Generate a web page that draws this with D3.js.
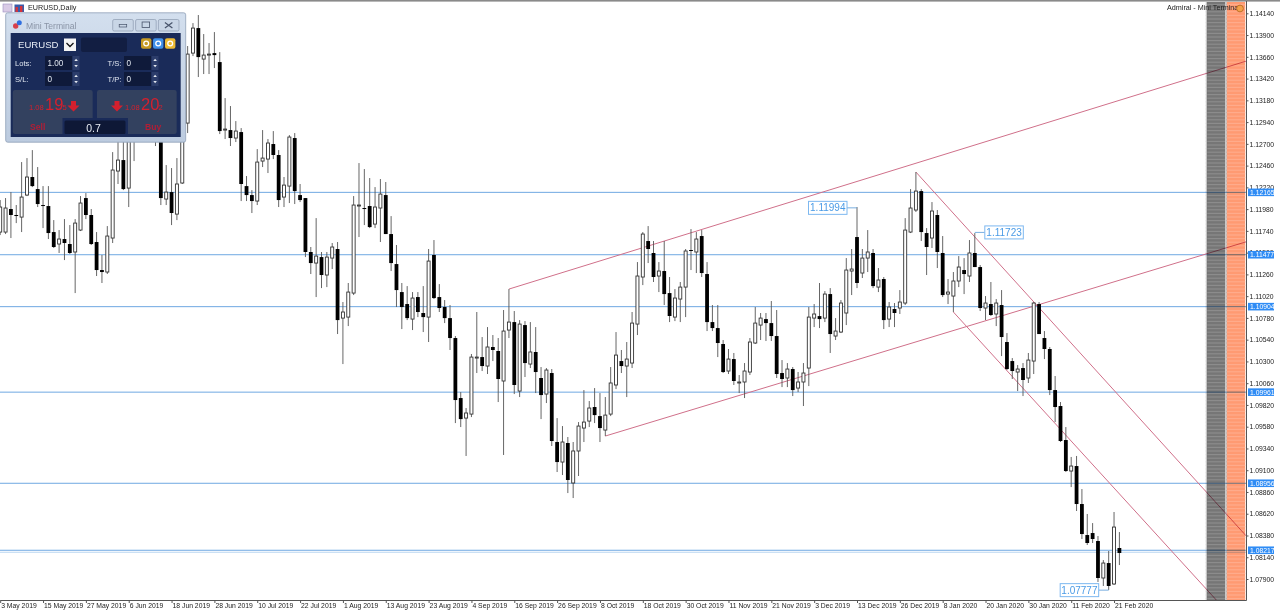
<!DOCTYPE html>
<html>
<head>
<meta charset="utf-8">
<title>EURUSD,Daily</title>
<script src="https://cdnjs.cloudflare.com/ajax/libs/d3/7.8.5/d3.min.js"></script>
<style>
  html, body { margin: 0; padding: 0; background: #fff; overflow: hidden; }
  text { font-family: "Liberation Sans", Arial, sans-serif; }
</style>
</head>
<body>
<div id="chart"></div>
<script>
// daily candles, 3 May 2019 .. 24 Feb 2020
var opens = [1.11727,1.11727,1.11981,1.11915,1.11892,1.12135,1.12334,1.12201,1.12025,1.12014,1.11727,1.11595,1.11650,1.11595,1.11507,1.11749,1.12102,1.11915,1.11617,1.11308,1.11286,1.11661,1.12400,1.12521,1.12212,1.12852,1.13073,1.13293,1.13426,1.13349,1.12907,1.12091,1.12168,1.11925,1.12268,1.12929,1.13701,1.13977,1.13635,1.13679,1.13701,1.13602,1.12852,1.12852,1.12764,1.12830,1.12234,1.12135,1.12069,1.12510,1.12532,1.12698,1.12577,1.12113,1.12234,1.12764,1.12135,1.12102,1.11507,1.11385,1.11451,1.11253,1.11440,1.11540,1.10778,1.10789,1.11054,1.12014,1.11992,1.12014,1.11815,1.11992,1.12135,1.11705,1.11374,1.11065,1.10933,1.10767,1.11010,1.10834,1.10789,1.11474,1.11010,1.10900,1.10778,1.10558,1.09896,1.09675,1.09719,1.10337,1.10348,1.10249,1.10459,1.10415,1.10084,1.10646,1.10734,1.09973,1.10701,1.10271,1.10404,1.10117,1.09940,1.10172,1.09411,1.09190,1.09400,1.08959,1.09312,1.09565,1.09642,1.09797,1.09697,1.09543,1.09719,1.10040,1.10304,1.10249,1.10282,1.10712,1.11231,1.11628,1.11496,1.11242,1.11297,1.11054,1.10789,1.10988,1.11120,1.11529,1.11507,1.11683,1.11264,1.10734,1.10668,1.10492,1.10194,1.10326,1.10062,1.10073,1.10183,1.10503,1.10701,1.10767,1.10723,1.10580,1.10172,1.10117,1.10216,1.10006,1.10073,1.10227,1.10778,1.10800,1.10778,1.11043,1.10580,1.10624,1.10834,1.11297,1.11672,1.11275,1.11440,1.11496,1.11120,1.11209,1.10767,1.10878,1.10889,1.10944,1.11727,1.11970,1.12179,1.11716,1.11661,1.11915,1.11496,1.11043,1.11021,1.11187,1.11308,1.11242,1.11496,1.11341,1.10889,1.10933,1.10823,1.10922,1.10514,1.10304,1.10183,1.10227,1.10117,1.10304,1.10933,1.10558,1.10437,1.09984,1.09808,1.09433,1.09091,1.09146,1.08727,1.08385,1.08407,1.08319,1.07911,1.08076,1.07845,1.08242];
var highs = [1.12080,1.12102,1.12168,1.12025,1.12499,1.12543,1.12631,1.12444,1.12234,1.12234,1.11859,1.11749,1.11870,1.11804,1.11870,1.12124,1.12157,1.11981,1.11727,1.11474,1.11793,1.12609,1.12852,1.12907,1.13018,1.13183,1.13349,1.13514,1.13492,1.13404,1.12984,1.12466,1.12433,1.12543,1.12962,1.13779,1.14032,1.14121,1.13911,1.13812,1.13933,1.13712,1.13205,1.13117,1.12951,1.12874,1.12345,1.12190,1.12642,1.12852,1.12753,1.12841,1.12631,1.12334,1.12797,1.12819,1.12257,1.12102,1.11562,1.11881,1.11507,1.11507,1.11606,1.11617,1.10955,1.11165,1.12124,1.12488,1.12422,1.12323,1.12223,1.12312,1.12279,1.11903,1.11584,1.11165,1.11131,1.11065,1.11065,1.11131,1.11540,1.11639,1.11153,1.10977,1.10922,1.10580,1.09962,1.09786,1.10382,1.10845,1.10569,1.10679,1.10591,1.10558,1.10867,1.11098,1.10856,1.10756,1.10745,1.10734,1.10679,1.10238,1.10227,1.10216,1.09675,1.09587,1.09466,1.09411,1.09631,1.09984,1.09863,1.10006,1.09951,1.09907,1.10238,1.10624,1.10426,1.10514,1.10845,1.11396,1.11727,1.11793,1.11628,1.11396,1.11628,1.11231,1.11098,1.11176,1.11540,1.11760,1.11727,1.11749,1.11396,1.10922,1.10922,1.10536,1.10437,1.10393,1.10150,1.10282,1.10558,1.10900,1.10834,1.10834,1.10966,1.10867,1.10315,1.10282,1.10238,1.10183,1.10282,1.10900,1.10933,1.11165,1.11076,1.11109,1.10778,1.10977,1.11440,1.11540,1.12003,1.11540,1.11749,1.11540,1.11330,1.11231,1.10955,1.10944,1.11087,1.11881,1.12201,1.12389,1.12201,1.11771,1.12058,1.11970,1.11683,1.11209,1.11286,1.11462,1.11440,1.11639,1.11716,1.11363,1.11021,1.11176,1.10988,1.11087,1.10613,1.10337,1.10260,1.10282,1.10393,1.10955,1.10955,1.10635,1.10459,1.10139,1.09852,1.09576,1.09246,1.09257,1.08892,1.08617,1.08517,1.08374,1.08109,1.08209,1.08639,1.08418];
var lows = [1.11694,1.11705,1.11661,1.11826,1.11727,1.12124,1.12223,1.12003,1.11771,1.11650,1.11551,1.11496,1.11418,1.11485,1.11054,1.11738,1.11870,1.11584,1.11242,1.11165,1.11264,1.11606,1.12257,1.12190,1.12003,1.12510,1.12962,1.13183,1.13018,1.12676,1.12025,1.12025,1.11804,1.11859,1.12257,1.12819,1.13668,1.13437,1.13470,1.13470,1.13536,1.12808,1.12753,1.12676,1.12720,1.12069,1.12069,1.11937,1.12025,1.12444,1.12378,1.12532,1.12003,1.12003,1.12047,1.12036,1.12058,1.11451,1.11264,1.11010,1.11109,1.11120,1.11319,1.10602,1.10271,1.10690,1.11032,1.11672,1.11804,1.11771,1.11771,1.11617,1.11705,1.11297,1.10900,1.10657,1.10756,1.10646,1.10789,1.10624,1.10514,1.10988,1.10845,1.10723,1.10426,1.09620,1.09576,1.09257,1.09686,1.10172,1.10194,1.10161,1.10304,1.09852,1.09268,1.10558,1.09940,1.09907,1.10128,1.10227,1.09951,1.09664,1.09841,1.09367,1.09080,1.09047,1.08848,1.08793,1.09036,1.09411,1.09576,1.09620,1.09411,1.09477,1.09697,1.09995,1.10172,1.09907,1.10227,1.10591,1.11142,1.11385,1.11176,1.11065,1.10922,1.10734,1.10745,1.10734,1.10789,1.11308,1.11275,1.11231,1.10635,1.10635,1.10348,1.10172,1.10161,1.10040,1.09951,1.09896,1.10150,1.10492,1.10536,1.10525,1.10525,1.10117,1.10017,1.10017,1.09918,1.09962,1.09808,1.10028,1.10679,1.10668,1.10734,1.10393,1.10536,1.10613,1.10701,1.11032,1.11109,1.11220,1.11286,1.11109,1.11065,1.10657,1.10679,1.10679,1.10823,1.10922,1.11716,1.11948,1.11628,1.11253,1.11551,1.11330,1.11010,1.10933,1.10845,1.11120,1.11043,1.11176,1.11341,1.10856,1.10756,1.10801,1.10690,1.10359,1.10205,1.10106,1.09973,1.09918,1.10062,1.10161,1.10602,1.10326,1.09929,1.09631,1.09411,1.09080,1.08914,1.08650,1.08341,1.08275,1.08297,1.07867,1.07823,1.07779,1.07834,1.08054];
var closes = [1.12003,1.11992,1.11915,1.11904,1.12113,1.12334,1.12234,1.12036,1.12014,1.11716,1.11562,1.11650,1.11606,1.11496,1.11826,1.12047,1.11915,1.11595,1.11308,1.11286,1.11683,1.12411,1.12521,1.12201,1.12852,1.13073,1.13293,1.13459,1.13183,1.12907,1.12102,1.12168,1.11937,1.12257,1.12907,1.13690,1.13977,1.13657,1.13679,1.13690,1.13679,1.12841,1.12863,1.12764,1.12841,1.12257,1.12135,1.12069,1.12499,1.12543,1.12709,1.12577,1.12080,1.12245,1.12775,1.12179,1.12080,1.11507,1.11385,1.11462,1.11253,1.11451,1.11562,1.10756,1.10845,1.11065,1.12025,1.12025,1.11981,1.11782,1.12003,1.12146,1.11705,1.11385,1.11087,1.10900,1.10778,1.10999,1.10845,1.10789,1.11407,1.10999,1.10889,1.10778,1.10558,1.09874,1.09664,1.09731,1.10348,1.10348,1.10249,1.10459,1.10426,1.10106,1.10635,1.10734,1.10040,1.10712,1.10282,1.10404,1.10183,1.09929,1.10205,1.09422,1.09190,1.09411,1.08992,1.09312,1.09587,1.09631,1.09786,1.09708,1.09565,1.09708,1.10062,1.10370,1.10249,1.10326,1.10723,1.11242,1.11705,1.11540,1.11231,1.11297,1.11043,1.10801,1.10999,1.11120,1.11518,1.11518,1.11650,1.11275,1.10734,1.10668,1.10503,1.10183,1.10326,1.10084,1.10073,1.10194,1.10514,1.10723,1.10778,1.10723,1.10580,1.10161,1.10106,1.10216,1.09984,1.10073,1.10172,1.10789,1.10823,1.10767,1.11043,1.10602,1.10635,1.10944,1.11308,1.11319,1.11165,1.11440,1.11507,1.11131,1.11198,1.10756,1.10900,1.10834,1.10955,1.11749,1.11992,1.12179,1.11727,1.11562,1.11959,1.11507,1.11032,1.11065,1.11187,1.11341,1.11264,1.11496,1.11341,1.10889,1.10944,1.10812,1.10944,1.10569,1.10216,1.10194,1.10216,1.10095,1.10315,1.10944,1.10602,1.10437,1.09984,1.09797,1.09422,1.09091,1.09146,1.08727,1.08396,1.08297,1.08341,1.07911,1.08076,1.07823,1.08473,1.08187];

// x axis: one label every 8 bars
var dateLabels = ["3 May 2019","15 May 2019","27 May 2019","6 Jun 2019","18 Jun 2019","28 Jun 2019","10 Jul 2019","22 Jul 2019","1 Aug 2019","13 Aug 2019","23 Aug 2019","4 Sep 2019","16 Sep 2019","26 Sep 2019","8 Oct 2019","18 Oct 2019","30 Oct 2019","11 Nov 2019","21 Nov 2019","3 Dec 2019","13 Dec 2019","26 Dec 2019","8 Jan 2020","20 Jan 2020","30 Jan 2020","11 Feb 2020","21 Feb 2020"];
var priceTicks = [1.14140,1.13900,1.13660,1.13420,1.13180,1.12940,1.12700,1.12460,1.12220,1.11980,1.11740,1.11500,1.11260,1.11020,1.10780,1.10540,1.10300,1.10060,1.09820,1.09580,1.09340,1.09100,1.08860,1.08620,1.08380,1.08140,1.07900];

// horizontal levels and the extra bid line
var levels = [1.12165,1.11477,1.10904,1.09961,1.08956,1.08217];
var bidLevel = 1.08195;

// channel lines: [bar, price] pairs
var channels = [
  [[95, 1.11098], [232.7, 1.13613]],
  [[113, 1.09477], [232.7, 1.11620]],
  [[171, 1.12389], [232.7, 1.08374]],
  [[178, 1.10845], [227.1, 1.07668]]
];

// high / low callouts: bar, price, which side the box sits on
var calloutBars = [160, 182, 207];
var calloutPrices = [1.11994, 1.11723, 1.07777];
var calloutSides = [-1, 1, -1];

var width = 1280, height = 613;
var plotRight = 1246, plotBottom = 600;
var barStep = 5.355, lastBar = (plotRight - 0.2) / barStep;

var xScale = d3.scaleLinear().domain([0, lastBar]).range([0.2, plotRight]);
var yScale = d3.scaleLinear().domain([1.079, 1.1414]).range([579, 13.3]);

var svg = d3.select("#chart").append("svg")
    .attr("width", width)
    .attr("height", height)
    .style("display", "block")
    .style("background", "#fff");

var defs = svg.append("defs");
defs.append("clipPath").attr("id", "plot")
    .append("rect").attr("x", 0).attr("y", 2).attr("width", plotRight).attr("height", plotBottom - 2);

var plot = svg.append("g").attr("clip-path", "url(#plot)");

// top border of the window
svg.append("rect").attr("x", 0).attr("y", 0).attr("width", width).attr("height", 1.6).attr("fill", "#8a8a8a");

// levels
plot.selectAll("line.level")
    .data(levels)
    .enter()
    .append("line")
    .attr("class", "level")
    .attr("x1", 0).attr("x2", plotRight)
    .attr("y1", d => yScale(d)).attr("y2", d => yScale(d))
    .attr("stroke", "#6fa8e2")
    .attr("stroke-width", 1);

plot.append("line")
    .attr("x1", 0).attr("x2", plotRight)
    .attr("y1", yScale(bidLevel)).attr("y2", yScale(bidLevel))
    .attr("stroke", "#a9cbee")
    .attr("stroke-width", 0.8);

// channels
plot.selectAll("line.channel")
    .data(channels)
    .enter()
    .append("line")
    .attr("class", "channel")
    .attr("x1", d => xScale(d[0][0])).attr("y1", d => yScale(d[0][1]))
    .attr("x2", d => xScale(d[1][0])).attr("y2", d => yScale(d[1][1]))
    .attr("stroke", "#d0708a")
    .attr("stroke-width", 1);

// candles
var candles = plot.selectAll("g.candle")
    .data(opens)
    .enter()
    .append("g")
    .attr("class", "candle");

candles.append("line")
    .attr("x1", (d, i) => xScale(i)).attr("x2", (d, i) => xScale(i))
    .attr("y1", (d, i) => yScale(highs[i])).attr("y2", (d, i) => yScale(lows[i]))
    .attr("stroke", "#555")
    .attr("stroke-width", 0.9);

candles.append("rect")
    .attr("x", (d, i) => xScale(i) - (closes[i] < opens[i] ? 1.9 : 1.5))
    .attr("width", (d, i) => closes[i] < opens[i] ? 3.8 : 3)
    .attr("y", (d, i) => yScale(Math.max(opens[i], closes[i])))
    .attr("height", (d, i) => Math.max(1, Math.abs(yScale(opens[i]) - yScale(closes[i]))))
    .attr("fill", (d, i) => closes[i] < opens[i] ? "#000" : "#fff")
    .attr("stroke", (d, i) => closes[i] < opens[i] ? "none" : "#333")
    .attr("stroke-width", 0.9);

// callouts
var callouts = svg.append("g");
calloutBars.forEach(function(bar, i) {
    var cx = xScale(bar), cy = yScale(calloutPrices[i]);
    var side = calloutSides[i];
    var gap = 10;
    var boxW = 38.5, boxH = 13;
    var boxX = side < 0 ? cx - gap - boxW : cx + gap;
    callouts.append("line")
        .attr("x1", cx).attr("x2", side < 0 ? boxX + boxW : boxX)
        .attr("y1", cy).attr("y2", cy)
        .attr("stroke", "#6aa5dd")
        .attr("stroke-width", 0.9);
    callouts.append("rect")
        .attr("x", boxX).attr("y", cy - boxH / 2)
        .attr("width", boxW).attr("height", boxH)
        .attr("fill", "#fff")
        .attr("stroke", "#7db8f0")
        .attr("stroke-width", 1);
    callouts.append("text")
        .attr("x", boxX + boxW / 2).attr("y", cy + 3.6)
        .attr("text-anchor", "middle")
        .attr("font-size", "10px")
        .attr("fill", "#4a9be6")
        .text(calloutPrices[i].toFixed(5));
});

// striped columns on the right, multiplied over the lines so they show through
function stripes(x, w, base, light) {
    var g = svg.append("g").style("mix-blend-mode", "multiply");
    g.append("rect").attr("x", x).attr("y", 2).attr("width", w).attr("height", plotBottom - 2).attr("fill", base);
    g.selectAll("rect.stripe")
        .data(d3.range(4, plotBottom, 3.6))
        .enter()
        .append("rect")
        .attr("class", "stripe")
        .attr("x", x).attr("y", d => d)
        .attr("width", w).attr("height", 1.2)
        .attr("fill", light);
}
stripes(1205.8, 1.3, "#c4c4c4", "#c4c4c4");
stripes(1225, 1.8, "#c9c9c9", "#c9c9c9");
stripes(1207, 18, "#767676", "#8c8c8c");
stripes(1226.8, 18.4, "#ff9a72", "#ffab8b");

// axes
var xAxis = svg.append("g")
    .attr("class", "axis axis--x")
    .attr("transform", "translate(0," + plotBottom + ")")
    .call(d3.axisBottom(xScale)
        .tickValues(d3.range(0, dateLabels.length * 8, 8))
        .tickFormat((d, i) => dateLabels[i])
        .tickSize(3)
        .tickSizeOuter(0));
xAxis.select(".domain").attr("stroke", "#555");
xAxis.selectAll("line").attr("stroke", "#555");
xAxis.selectAll("text")
    .attr("font-family", null)
    .attr("text-anchor", "start")
    .attr("x", 0.5)
    .attr("y", 3.5)
    .attr("font-size", "6.8px")
    .attr("fill", "#222");

var yAxis = svg.append("g")
    .attr("class", "axis axis--y")
    .attr("transform", "translate(" + plotRight + ",0)")
    .call(d3.axisRight(yScale)
        .tickValues(priceTicks)
        .tickFormat(d3.format(".5f"))
        .tickSize(2.5)
        .tickSizeOuter(0));
yAxis.select(".domain").attr("stroke", "#555").attr("d", "M0.5,1V" + (plotBottom + 0.5));
yAxis.selectAll("line").attr("stroke", "#555");
yAxis.selectAll("text")
    .attr("x", 3.5)
    .attr("font-size", "6.8px")
    .attr("fill", "#222");

// level price tags
var tags = svg.append("g");
tags.selectAll("rect")
    .data(levels)
    .enter()
    .append("rect")
    .attr("x", 1248).attr("y", d => yScale(d) - 3.8)
    .attr("width", 26).attr("height", 7.6)
    .attr("fill", "#2f8cf5");
tags.selectAll("text")
    .data(levels)
    .enter()
    .append("text")
    .attr("x", 1250).attr("y", d => yScale(d) + 2.4)
    .attr("font-size", "6.8px")
    .attr("fill", "#fff")
    .text(d => d.toFixed(5));

// chart caption, expert name
svg.append("rect").attr("x", 3).attr("y", 4).attr("width", 9).attr("height", 8).attr("fill", "#d9cbe6").attr("stroke", "#9a8fc0").attr("stroke-width", 0.6);
svg.append("rect").attr("x", 14.5).attr("y", 4.5).attr("width", 9.5).attr("height", 7.5).attr("fill", "#3a5aa8");
svg.append("rect").attr("x", 15.5).attr("y", 7).attr("width", 2.4).attr("height", 5).attr("fill", "#d8343a");
svg.append("rect").attr("x", 20).attr("y", 6).attr("width", 2.4).attr("height", 6).attr("fill", "#d8343a");
svg.append("text").attr("x", 28).attr("y", 10.4).attr("font-size", "7.2px").attr("fill", "#222").text("EURUSD,Daily");
svg.append("text").attr("x", 1167).attr("y", 10.4).attr("font-size", "7.2px").attr("fill", "#222").text("Admiral - Mini Terminal");
svg.append("circle").attr("cx", 1240).attr("cy", 8.5).attr("r", 3.4).attr("fill", "#f4a24a").attr("stroke", "#b5651d").attr("stroke-width", 0.8);

// mini terminal window
var term = svg.append("g");
var titleGrad = defs.append("linearGradient").attr("id", "titleGrad").attr("x1", 0).attr("x2", 0).attr("y1", 0).attr("y2", 1);
titleGrad.append("stop").attr("offset", "0").attr("stop-color", "#d3dfee");
titleGrad.append("stop").attr("offset", "1").attr("stop-color", "#bccbdf");

term.append("rect").attr("x", 5.7).attr("y", 12.8).attr("width", 180).attr("height", 129.4).attr("rx", 2)
    .attr("fill", "url(#titleGrad)").attr("stroke", "#8fa0b8").attr("stroke-width", 0.8);
term.append("rect").attr("x", 10.7).attr("y", 33).attr("width", 170).attr("height", 104).attr("fill", "#1a2b59");

term.append("circle").attr("cx", 15.7).attr("cy", 26).attr("r", 2.7).attr("fill", "#d8404a");
term.append("circle").attr("cx", 19.3).attr("cy", 22.7).attr("r", 2.5).attr("fill", "#2f6fe0");
term.append("text").attr("x", 26).attr("y", 29).attr("font-size", "8.6px").attr("fill", "#8a94a6").text("Mini Terminal");

// window buttons
[112.7, 135.6, 158.4].forEach(function(bx, i) {
    term.append("rect").attr("x", bx).attr("y", 19.5).attr("width", 20.6).attr("height", 11.5).attr("rx", 1.5)
        .attr("fill", "#c9d6e6").attr("stroke", "#8d9bb0").attr("stroke-width", 0.7);
    if (i == 0) term.append("rect").attr("x", bx + 6.5).attr("y", 24.5).attr("width", 7.5).attr("height", 2.5).attr("fill", "none").attr("stroke", "#47536a").attr("stroke-width", 0.7);
    if (i == 1) term.append("rect").attr("x", bx + 6.5).attr("y", 22).attr("width", 7.5).attr("height", 5.5).attr("fill", "none").attr("stroke", "#47536a").attr("stroke-width", 0.8);
    if (i == 2) term.append("path").attr("d", "M" + (bx + 6.5) + ",22.5l7.5,5.5m0,-5.5l-7.5,5.5").attr("stroke", "#47536a").attr("stroke-width", 1.2);
});

term.append("text").attr("x", 18).attr("y", 48.4).attr("font-size", "9.6px").attr("fill", "#e8edf5").text("EURUSD");
term.append("rect").attr("x", 64).attr("y", 38.5).attr("width", 12).attr("height", 12.5).attr("fill", "#f4f4f4");
term.append("path").attr("d", "M66.5,43l3.5,3.5l3.5,-3.5").attr("fill", "none").attr("stroke", "#111").attr("stroke-width", 1.3);
term.append("rect").attr("x", 81).attr("y", 37.5).attr("width", 46).attr("height", 14.5).attr("rx", 2).attr("fill", "#121e42");

// toolbar icons
[[141, "#c79a23"], [153, "#3f8fe8"], [165, "#edba33"]].forEach(function(ic) {
    term.append("rect").attr("x", ic[0]).attr("y", 38.3).attr("width", 10.4).attr("height", 10.4).attr("rx", 2).attr("fill", ic[1]);
    term.append("circle").attr("cx", ic[0] + 5.2).attr("cy", 43.5).attr("r", 2.4).attr("fill", "none").attr("stroke", "#fff").attr("stroke-width", 1.3);
});

// lot / stop fields
var fields = [
  ["Lots:", "1.00", 15, 63, 45],
  ["S/L:", "0", 15, 79, 45],
  ["T/S:", "0", 107.5, 63, 124],
  ["T/P:", "0", 107.5, 79, 124]
];
fields.forEach(function(f) {
    term.append("text").attr("x", f[2]).attr("y", f[3] + 2.8).attr("font-size", "7.6px").attr("fill", "#dfe5ef").text(f[0]);
    term.append("rect").attr("x", f[4]).attr("y", f[3] - 7).attr("width", 27).attr("height", 14).attr("fill", "#0f1a3a");
    term.append("text").attr("x", f[4] + 2.4).attr("y", f[3] + 3).attr("font-size", "8.2px").attr("fill", "#dfe5ef").text(f[1]);
    term.append("rect").attr("x", f[4] + 27.7).attr("y", f[3] - 7).attr("width", 6.8).attr("height", 14).attr("fill", "#2c3d6b");
    term.append("path").attr("d", "M" + (f[4] + 29.3) + "," + (f[3] - 2) + "l1.8,-2.2l1.8,2.2z").attr("fill", "#e4e8f0");
    term.append("path").attr("d", "M" + (f[4] + 29.3) + "," + (f[3] + 2) + "l1.8,2.2l1.8,-2.2z").attr("fill", "#e4e8f0");
});

// sell / buy panels
term.append("path").attr("d", "M15,90H90.5a2.2,2.2 0 0 1 2.2,2.2V118H62.5V134H15a2.2,2.2 0 0 1 -2.2,-2.2V92.2a2.2,2.2 0 0 1 2.2,-2.2z").attr("fill", "#33415f");
term.append("path").attr("d", "M99.2,90H174.5a2.2,2.2 0 0 1 2.2,2.2V131.8a2.2,2.2 0 0 1 -2.2,2.2H128V118H97V92.2a2.2,2.2 0 0 1 2.2,-2.2z").attr("fill", "#33415f");
term.append("rect").attr("x", 64.5).attr("y", 120.5).attr("width", 61).attr("height", 13.5).attr("rx", 1.5).attr("fill", "#0e1836");
term.append("text").attr("x", 93.5).attr("y", 131.5).attr("text-anchor", "middle").attr("font-size", "10.5px").attr("fill", "#e8edf5").text("0.7");

var red = "#d3202e";
term.append("text").attr("x", 29).attr("y", 109.5).attr("font-size", "7.6px").attr("fill", red).text("1.08");
term.append("text").attr("x", 45).attr("y", 110).attr("font-size", "16.5px").attr("fill", red).text("19");
term.append("text").attr("x", 62.4).attr("y", 109.5).attr("font-size", "7.6px").attr("fill", red).text("5");
term.append("path").attr("d", "M71,101h5v4.5h3.5l-6,6l-6,-6h3.5z").attr("fill", red);
term.append("path").attr("d", "M114.5,101h5v4.5h3.5l-6,6l-6,-6h3.5z").attr("fill", red);
term.append("text").attr("x", 125).attr("y", 109.5).attr("font-size", "7.6px").attr("fill", red).text("1.08");
term.append("text").attr("x", 141).attr("y", 110).attr("font-size", "16.5px").attr("fill", red).text("20");
term.append("text").attr("x", 158.4).attr("y", 109.5).attr("font-size", "7.6px").attr("fill", red).text("2");
term.append("text").attr("x", 30).attr("y", 130).attr("font-size", "8.6px").attr("font-weight", "bold").attr("fill", "#b01e36").text("Sell");
term.append("text").attr("x", 145).attr("y", 130).attr("font-size", "8.6px").attr("font-weight", "bold").attr("fill", "#b01e36").text("Buy");
</script>
</body>
</html>
